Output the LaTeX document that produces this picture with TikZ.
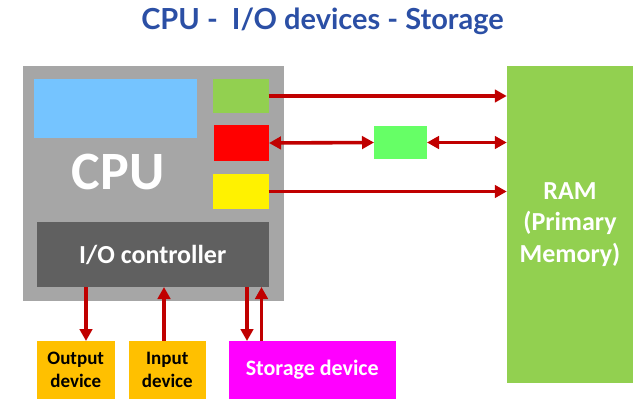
\documentclass[tikz,border=0pt]{standalone}
\usepackage{fontspec}
\setmainfont{Carlito}
\newfontfamily\titlefont{Lato}
\usetikzlibrary{arrows.meta}

\definecolor{titleblue}{RGB}{43,79,165}
\definecolor{cpugray}{RGB}{166,166,166}
\definecolor{iogray}{RGB}{96,96,96}
\definecolor{alublue}{RGB}{117,196,255}
\definecolor{leafgreen}{RGB}{146,208,80}
\definecolor{lightgreen}{RGB}{102,255,102}
\definecolor{devorange}{RGB}{255,192,0}
\definecolor{diskpink}{RGB}{255,0,255}
\definecolor{busred}{RGB}{192,0,0}

\begin{document}
\begin{tikzpicture}[x=1pt,y=-1pt,
    box/.style={inner sep=0pt, outer sep=0pt, align=center, font=\bfseries},
    bus/.style={busred, line width=3.6pt, -{Triangle[width=12.5pt,length=12pt]}},
    dbus/.style={busred, line width=3.6pt, {Triangle[width=12.5pt,length=12pt]}-{Triangle[width=12.5pt,length=12pt]}}]

                \useasboundingbox (0,0) rectangle (644,412);

                % title
                \node[anchor=base, text=titleblue, font=\titlefont\bfseries\fontsize{29}{34}\selectfont] (title) at (322.5,30) {CPU - \ I/O devices - Storage};

                % processor and its parts
                \node[box, fill=cpugray, minimum width=261pt, minimum height=235pt] (cpu) at (153.5,183.5) {};
                \node[box, fill=alublue, minimum width=163pt, minimum height=59pt] (alu) at (115.5,108.5) {};
                \node[box, text=white, font=\bfseries\fontsize{54}{60}\selectfont] (cpulabel) at (118,172) {CPU};
                \node[box, fill=leafgreen, minimum width=55.5pt, minimum height=34pt] (rega) at (240.75,96) {};
                \node[box, fill=red, minimum width=55pt, minimum height=36pt] (regb) at (241.5,143) {};
                \node[box, fill=yellow, minimum width=55.5pt, minimum height=35pt] (regc) at (240.75,191.5) {};
                \node[box, fill=iogray, text=white, minimum width=231.5pt, minimum height=65pt, font=\bfseries\fontsize{26}{31}\selectfont] (io) at (152.75,254.5) {I/O controller};

                % memory side
                \node[box, fill=lightgreen, minimum width=53pt, minimum height=33pt] (cache) at (400.5,142.5) {};
                \node[box, fill=leafgreen, text=white, minimum width=126.5pt, minimum height=317pt, font=\bfseries\fontsize{26}{31.5}\selectfont] (ram) at (570,224.5) {RAM\\(Primary\\Memory)};

                % devices
                \node[box, fill=devorange, minimum width=77.5pt, minimum height=58pt, font=\bfseries\fontsize{19}{22.5}\selectfont] (out) at (75.75,370) {Output\\device};
                \node[box, fill=devorange, minimum width=77.5pt, minimum height=58pt, font=\bfseries\fontsize{19}{22.5}\selectfont] (in) at (167.25,370) {Input\\device};
                \node[box, fill=diskpink, text=white, minimum width=167.5pt, minimum height=58pt, font=\bfseries\fontsize{22}{26}\selectfont] (disk) at (312.25,370) {Storage device};

                % buses
                \draw[bus] (rega.east) -- (rega.east -| ram.west);
                \draw[dbus] (regb.east) -- (cache.west);
                \draw[dbus] (cache.east) -- (cache.east -| ram.west);
                \draw[bus] (regc.east) -- (regc.east -| ram.west);

                \coordinate (outx) at (86,0);
                \coordinate (inx) at (164,0);
                \coordinate (diskdn) at (247,0);
                \coordinate (diskup) at (261.5,0);
                \draw[bus] (io.south -| outx) -- (out.north -| outx);
                \draw[bus] (in.north -| inx) -- (io.south -| inx);
                \draw[bus] (io.south -| diskdn) -- (disk.north -| diskdn);
                \draw[bus] (disk.north -| diskup) -- (io.south -| diskup);
            \end{tikzpicture}
\end{document}
